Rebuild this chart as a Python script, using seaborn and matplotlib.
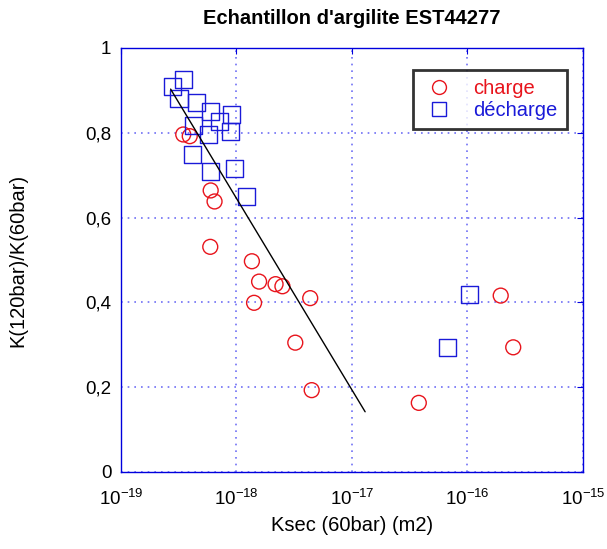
import numpy as np
import pandas as pd
import matplotlib
matplotlib.use("Agg")
import matplotlib.pyplot as plt
import seaborn as sns
from matplotlib.lines import Line2D
from matplotlib.ticker import FuncFormatter, NullLocator

# -----------------------------
# Data
# -----------------------------
charge_k = [3.46e-19, 3.94e-19, 5.98e-19, 6.46e-19, 5.93e-19, 1.36e-18, 1.57e-18, 2.18e-18,
            2.50e-18, 4.35e-18, 1.42e-18, 3.23e-18, 4.48e-18, 1.94e-16, 2.49e-16, 3.79e-17]
charge_ratio = [0.796, 0.792, 0.664, 0.638, 0.531, 0.497, 0.449, 0.443,
                0.438, 0.410, 0.399, 0.305, 0.193, 0.416, 0.294, 0.163]

decharge_k = [3.49e-19, 2.81e-19, 3.18e-19, 4.52e-19, 5.93e-19, 9.08e-19, 7.16e-19, 4.25e-19,
              5.78e-19, 8.91e-19, 4.18e-19, 5.98e-19, 9.57e-19, 1.21e-18, 1.04e-16, 6.78e-17]
decharge_ratio = [0.926, 0.909, 0.880, 0.872, 0.851, 0.844, 0.826, 0.817,
                  0.795, 0.802, 0.748, 0.709, 0.715, 0.649, 0.418, 0.293]

fit_k = [2.69e-19, 1.30e-17]
fit_ratio = [0.903, 0.142]

x_ticks = [1e-19, 1e-18, 1e-17, 1e-16, 1e-15]
y_ticks = [0, 0.2, 0.4, 0.6, 0.8, 1]

# -----------------------------
# Styling
# -----------------------------
sns.set_style("white")
plt.rcParams["font.family"] = ["Liberation Sans", "DejaVu Sans"]
plt.rcParams["mathtext.fontset"] = "custom"
plt.rcParams["mathtext.rm"] = "Liberation Sans"
plt.rcParams["mathtext.it"] = "Liberation Sans:italic"
plt.rcParams["mathtext.bf"] = "Liberation Sans:bold"
plt.rcParams["axes.unicode_minus"] = False
plt.rcParams["text.color"] = "black"
plt.rcParams["axes.labelcolor"] = "black"

AXIS_BLUE = "#0000dd"
GRID_BLUE = "#6f6ff5"
RED = "#e8141c"
BLUE = "#1a1ad8"
TICKS_FONT = 13.5
LABEL_FONT = 14.5

fig = plt.figure(figsize=(6.07, 5.49), dpi=100)
ax = fig.add_axes([0.1993, 0.1403, 0.7611, 0.7723])

df_c = pd.DataFrame({"k": charge_k, "r": charge_ratio})
df_d = pd.DataFrame({"k": decharge_k, "r": decharge_ratio})

sns.scatterplot(data=df_c, x="k", y="r", marker="o", s=115, ax=ax, zorder=3)
ax.collections[-1].set_facecolor("none")
ax.collections[-1].set_edgecolor(RED)
ax.collections[-1].set_linewidth(1.0)

sns.scatterplot(data=df_d, x="k", y="r", marker="s", s=150, ax=ax, zorder=3)
ax.collections[-1].set_facecolor("none")
ax.collections[-1].set_edgecolor(BLUE)
ax.collections[-1].set_linewidth(1.0)

sns.lineplot(x=fit_k, y=fit_ratio, color="black", linewidth=1.0, ax=ax, zorder=4)

ax.set_xscale("log")
ax.set_xlim(1e-19, 1e-15)
ax.set_ylim(0, 1)
ax.set_xticks(x_ticks)
ax.xaxis.set_minor_locator(NullLocator())
ax.set_yticks(y_ticks)
ax.yaxis.set_major_formatter(FuncFormatter(lambda v, p: f"{v:g}".replace(".", ",")))

ax.grid(True, linestyle=(0, (1, 3)), color=GRID_BLUE, linewidth=1.2)
for s in ax.spines.values():
    s.set_color(AXIS_BLUE)
    s.set_linewidth(1.0)
ax.tick_params(axis="both", which="major", direction="in", length=4, color=AXIS_BLUE,
               labelcolor="black", labelsize=TICKS_FONT, top=True, right=True)
ax.tick_params(axis="x", pad=12)
ax.tick_params(axis="y", pad=7)

ax.set_xlabel("Ksec (60bar) (m2)", fontsize=LABEL_FONT, color="black")
ax.set_ylabel("K(120bar)/K(60bar)", fontsize=LABEL_FONT, color="black")
ax.xaxis.set_label_coords(0.5, -0.105)
ax.yaxis.set_label_coords(-0.203, 0.5)
ax.set_title("Echantillon d'argilite EST44277", fontsize=LABEL_FONT, fontweight="bold",
             color="black", pad=17)

handles = [
    Line2D([], [], marker="o", linestyle="none", markerfacecolor="none",
           markeredgecolor=RED, markersize=10),
    Line2D([], [], marker="s", linestyle="none", markerfacecolor="none",
           markeredgecolor=BLUE, markersize=10),
]
leg = ax.legend(handles, ["charge", "décharge"], loc="upper right",
                bbox_to_anchor=(0.965, 0.948), borderaxespad=0, fontsize=14.5, frameon=True,
                fancybox=False, borderpad=0.45, handletextpad=0.9, labelspacing=0.15,
                handlelength=1.65)
leg.get_frame().set_edgecolor("black")
leg.get_frame().set_linewidth(2)
for txt, c in zip(leg.get_texts(), [RED, BLUE]):
    txt.set_color(c)

fig.savefig("out.png", dpi=100)
